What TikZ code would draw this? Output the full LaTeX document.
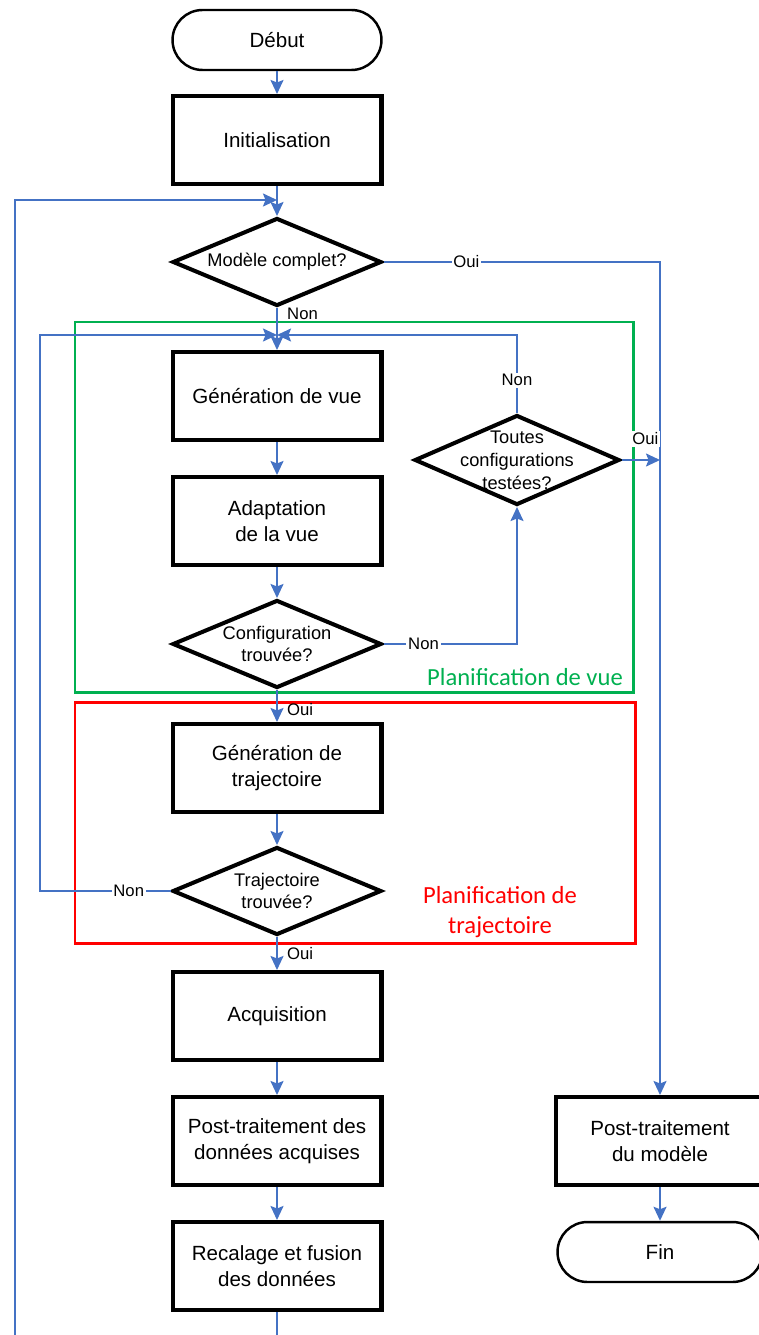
\documentclass[tikz,border=0pt]{standalone}
\usepackage{fontspec}
\setmainfont{Liberation Sans}
\newfontfamily\calibri{Carlito}
\usepackage{xcolor}
\usepackage{tikz}
\usetikzlibrary{arrows.meta, shapes.geometric, positioning}

\definecolor{flowblue}{RGB}{68,114,196}
\definecolor{vuegreen}{RGB}{0,176,80}
\definecolor{trajred}{RGB}{255,0,0}

\begin{document}
\begin{tikzpicture}[x=0.02cm, y=-0.02cm,
    >={Stealth[length=2.8mm, width=2.6mm, inset=0.5mm]},
    bloc/.style={draw, line width=2.3pt, minimum width=4.18cm, minimum height=1.76cm,
        align=center, inner sep=2pt, font=\fontsize{11.7}{14.7}\selectfont},
    terminal/.style={draw, line width=1.4pt, rounded corners=0.6cm, minimum width=4.18cm,
        minimum height=1.2cm, font=\fontsize{11.7}{14}\selectfont},
    decision/.style={draw, diamond, line width=2.3pt, minimum width=4.18cm,
        minimum height=1.76cm, inner sep=0pt},
    dtxt/.style={align=center, inner sep=0pt, font=\fontsize{10.4}{13}\selectfont},
    fleche/.style={->, flowblue, line width=1.1pt},
    lien/.style={flowblue, line width=1.1pt},
    rep/.style={inner sep=1pt, text=black, font=\fontsize{9.5}{11}\selectfont},
    cadre/.style={line width=1.7pt},
    titre/.style={align=center, font=\calibri\fontsize{14}{17}\selectfont}]
    \useasboundingbox (0,0) rectangle (758,1335);

    % 1. Cadres des deux phases de planification
    \draw[cadre, vuegreen] (75,322) rectangle (633,692);
    \node[titre, text=vuegreen] (tvue) at (525,677) {Planification de vue};
    \draw[cadre, trajred] (75,702) rectangle (635,943);
    \node[titre, text=trajred] (ttraj) at (500,912) {Planification de\\trajectoire};

    % 2. Blocs de la colonne principale
    \node[terminal] (debut) at (277,40) {Début};
    \node[bloc] (init) at (277,140) {Initialisation};
    \node[decision, label={[dtxt]center:Modèle complet?}] (qmod) at (277,262) {};
    \node[bloc] (genvue) at (277,396) {Génération de vue};
    \node[bloc] (adapt) at (277,521) {Adaptation\\de la vue};
    \node[decision, label={[dtxt]center:{Configuration\\trouvée?}}] (qconf) at (277,644) {};
    \node[decision, minimum width=4.1cm, minimum height=1.8cm,
        label={[dtxt]center:{Toutes\\configurations\\testées?}}] (qtout) at (517,460) {};
    \node[bloc] (gentraj) at (277,768) {Génération de\\trajectoire};
    \node[decision, label={[dtxt]center:{Trajectoire\\trouvée?}}] (qtraj) at (277,891) {};
    \node[bloc] (acq) at (277,1016) {Acquisition};
    \node[bloc] (postdon) at (277,1141) {Post-traitement des\\données acquises};
    \node[bloc] (recal) at (277,1266) {Recalage et fusion\\des données};

    % 3. Colonne de droite
    \node[bloc] (postmod) at (660,1141) {Post-traitement\\du modèle};
    \node[terminal, minimum width=4.1cm] (fin) at (660,1252) {Fin};

    % Points de jonction des boucles
    \coordinate (jonc1) at (277,200);
    \coordinate (jonc2) at (277,335);
    \coordinate (retour) at (40,891);
    \coordinate (gauche) at (15,1335);
    \coordinate (bas) at (277,1335);

    % 4. Flèches bleues
    \draw[fleche] (debut) -- (init);
    \draw[fleche] (init) -- (qmod);
    \draw[fleche] (gauche) |- (jonc1);
    \draw[fleche] (qmod.east) -| node[rep, fill=white, pos=0.15] {Oui} (postmod.north);
    \draw[fleche] (qmod.south) -- node[rep, right=1.5mm, pos=0.15] {Non} (genvue);
    \draw[fleche] (genvue) -- (adapt);
    \draw[fleche] (adapt) -- (qconf);
    \draw[fleche] (qconf.east) -| node[rep, fill=white, pos=0.15] {Non} (qtout.south);
    \draw[fleche] (qtout.north) |- node[rep, fill=white, pos=0.21] {Non} (jonc2);
    \draw[fleche] (qtout.east) -- node[rep, fill=white, above=2.5mm, pos=0.62] {Oui}
        (qtout.east -| postmod.north);
    \draw[fleche] (qconf.south) -- node[rep, right=1.5mm, pos=0.6] {Oui} (gentraj);
    \draw[fleche] (gentraj) -- (qtraj);
    \draw[fleche] (qtraj.west) -- node[rep, fill=white, pos=0.32] {Non} (retour) |- (jonc2);
    \draw[fleche] (qtraj.south) -- node[rep, right=1.5mm, pos=0.5] {Oui} (acq);
    \draw[fleche] (acq) -- (postdon);
    \draw[fleche] (postdon) -- (recal);
    \draw[lien] (recal) -- (bas);
    \draw[fleche] (postmod) -- (fin);

\end{tikzpicture}
\end{document}
